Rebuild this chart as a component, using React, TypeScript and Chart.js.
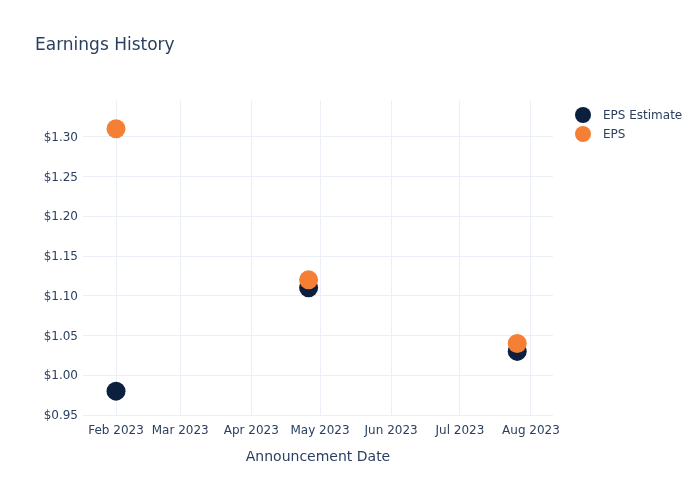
import React, { useEffect, useRef } from "react";
import { Chart, registerables } from "chart.js";

Chart.register(...registerables);

const DAY = 86400000;
const announcementDates = [Date.UTC(2023, 1, 1), Date.UTC(2023, 3, 26), Date.UTC(2023, 6, 26)];
const epsEstimate = [0.98, 1.11, 1.03];
const epsActual = [1.31, 1.12, 1.04];
const monthTicks = [
  Date.UTC(2023, 1, 1), Date.UTC(2023, 2, 1), Date.UTC(2023, 3, 1), Date.UTC(2023, 4, 1),
  Date.UTC(2023, 5, 1), Date.UTC(2023, 6, 1), Date.UTC(2023, 7, 1),
];
const monthNames = ["Jan", "Feb", "Mar", "Apr", "May", "Jun", "Jul", "Aug", "Sep", "Oct", "Nov", "Dec"];
const yTicks = [0.95, 1.0, 1.05, 1.1, 1.15, 1.2, 1.25, 1.3];
const seriesNames = ["EPS Estimate", "EPS"];
const seriesColors = ["#0b1f3f", "#f67f36"];

const X_MIN = Date.UTC(2023, 1, 1) - 14.4 * DAY;
const X_MAX = Date.UTC(2023, 1, 1) + 190.6 * DAY;
const TEXT = "#2a3f5f";
const GRID = "#ebf0f8";
const FONT = "'DejaVu Sans', sans-serif";

const legendPlugin = {
  id: "customLegend",
  afterDraw(chart: any) {
    const ctx = chart.ctx;
    ctx.save();
    seriesNames.forEach((name, i) => {
      const y = 115 + i * 19;
      ctx.beginPath();
      ctx.arc(583, y, 8, 0, Math.PI * 2);
      ctx.fillStyle = seriesColors[i];
      ctx.fill();
      ctx.fillStyle = TEXT;
      ctx.font = `12px ${FONT}`;
      ctx.textBaseline = "middle";
      ctx.textAlign = "left";
      ctx.fillText(name, 603, y + 1);
    });
    ctx.restore();
  },
};

export default function App() {
  const ref = useRef<HTMLCanvasElement>(null);
  useEffect(() => {
    if (!ref.current) return;
    const chart = new Chart(ref.current, {
      type: "scatter",
      data: {
        datasets: [
          {
            label: seriesNames[0],
            data: announcementDates.map((x, i) => ({ x, y: epsEstimate[i] })),
            backgroundColor: seriesColors[0],
            borderWidth: 0,
            pointRadius: 9.5,
            order: 1,
          },
          {
            label: seriesNames[1],
            data: announcementDates.map((x, i) => ({ x, y: epsActual[i] })),
            backgroundColor: seriesColors[1],
            borderWidth: 0,
            pointRadius: 9.5,
            order: 0,
          },
        ],
      },
      options: {
        responsive: false,
        animation: false,
        layout: { padding: { top: 101, left: 35, right: 147, bottom: 0 } },
        plugins: {
          legend: { display: false },
          tooltip: { enabled: false },
          title: { display: false },
        },
        scales: {
          x: {
            type: "linear",
            min: X_MIN,
            max: X_MAX,
            afterBuildTicks: (scale: any) => {
              scale.ticks = monthTicks.map((v) => ({ value: v }));
            },
            afterFit: (scale: any) => {
              scale.height = 85;
            },
            ticks: {
              padding: 9,
              maxRotation: 0,
              autoSkip: false,
              color: TEXT,
              font: { family: FONT, size: 12 },
              callback: (v: any) => {
                const d = new Date(v);
                return `${monthNames[d.getUTCMonth()]} ${d.getUTCFullYear()}`;
              },
            },
            grid: { color: GRID, lineWidth: 1, drawTicks: false },
            border: { display: false },
            title: {
              display: true,
              text: "Announcement Date",
              color: TEXT,
              font: { family: FONT, size: 14 },
              padding: { top: 0, bottom: 34.6 },
            },
          },
          y: {
            type: "linear",
            min: 0.95,
            max: 1.345,
            afterBuildTicks: (scale: any) => {
              scale.ticks = yTicks.map((v) => ({ value: v }));
            },
            afterFit: (scale: any) => {
              scale.width = 48;
            },
            ticks: {
              padding: 5,
              labelOffset: 1,
              color: TEXT,
              font: { family: FONT, size: 12 },
              callback: (v: any) => `$${Number(v).toFixed(2)}`,
            },
            grid: { color: GRID, lineWidth: 1, drawTicks: false },
            border: { display: false },
          },
        },
      },
      plugins: [
        legendPlugin,
        {
          id: "titleText",
          afterDraw(chart: any) {
            const ctx = chart.ctx;
            ctx.save();
            ctx.fillStyle = TEXT;
            ctx.font = `17px ${FONT}`;
            ctx.textBaseline = "middle";
            ctx.textAlign = "left";
            ctx.fillText("Earnings History", 35, 46);
            ctx.restore();
          },
        },
      ],
    } as any);
    return () => chart.destroy();
  }, []);
  return (
    <div style={{ position: "fixed", left: 0, top: 0, width: 700, height: 500, background: "#fff" }}>
      <canvas ref={ref} width={700} height={500} />
    </div>
  );
}
